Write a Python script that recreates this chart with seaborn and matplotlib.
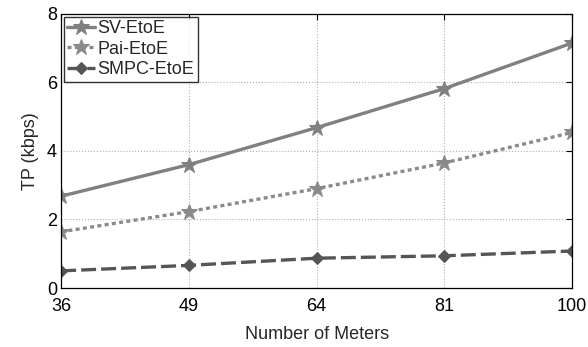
import pandas as pd
import matplotlib
matplotlib.use("Agg")
import matplotlib.pyplot as plt
import seaborn as sns

# data
meters = [36, 49, 64, 81, 100]
sv_etoe = [2.68, 3.60, 4.68, 5.82, 7.15]
pai_etoe = [1.64, 2.23, 2.90, 3.65, 4.54]
smpc_etoe = [0.50, 0.66, 0.87, 0.94, 1.08]

sns.set_style("white")
plt.rcParams['font.family'] = ['Liberation Sans', 'DejaVu Sans']

fig = plt.figure(figsize=(5.88, 3.47), dpi=100)
ax = fig.add_axes([0.104, 0.170, 0.869, 0.790])

pos = list(range(len(meters)))
series = [
    ("SV-EtoE", sv_etoe, "#808080", "-", "*", 12),
    ("Pai-EtoE", pai_etoe, "#8a8a8a", (0, (1.2, 1.0)), "*", 12),
    ("SMPC-EtoE", smpc_etoe, "#555555", (0, (4.5, 1.5)), "D", 6),
]
for name, vals, col, ls, mk, ms in series:
    df = pd.DataFrame({"pos": pos, "tp": vals})
    sns.lineplot(data=df, x="pos", y="tp", ax=ax, color=col, linestyle=ls,
                 linewidth=2.4, marker=mk, markersize=ms, markeredgecolor=col,
                 label=name)

ax.set_xlim(pos[0], pos[-1])
ax.set_ylim(0, 8)
ax.set_xticks(pos)
ax.set_xticklabels([str(m) for m in meters])
ax.set_yticks([0, 2, 4, 6, 8])
ax.tick_params(direction="in", top=True, right=True, length=4, width=0.8,
               labelsize=13, colors="black")
ax.tick_params(axis="x", pad=7)
ax.tick_params(axis="y", pad=3)
ax.grid(True, linestyle=":", color="#b0b0b0", linewidth=0.8)
for s in ax.spines.values():
    s.set_visible(True)
    s.set_color("black")
    s.set_linewidth(0.9)

ax.set_xlabel("Number of Meters", fontsize=13, labelpad=8)
ax.set_ylabel("TP (kbps)", fontsize=13, labelpad=6)

leg = ax.legend(loc="upper left", fontsize=13, frameon=True, fancybox=False,
                edgecolor="black", handlelength=1.5, handletextpad=0.15,
                borderpad=0.2, labelspacing=0.2, borderaxespad=0.15)
leg.get_frame().set_linewidth(1.0)

fig.savefig("out.png", dpi=100)
